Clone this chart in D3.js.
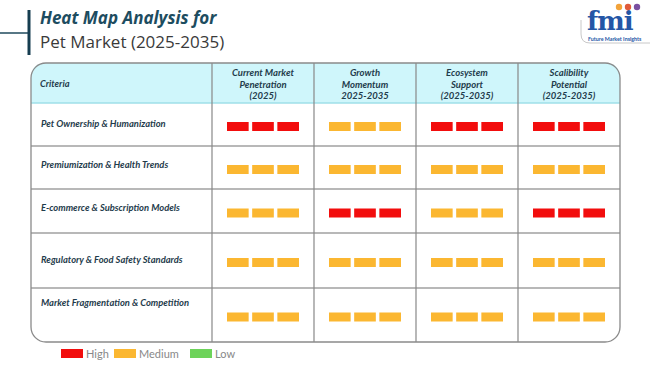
<!DOCTYPE html>
<html><head><meta charset="utf-8">
<script src="https://cdn.jsdelivr.net/npm/d3@7"></script>
<style>
html,body{margin:0;padding:0;background:#fff;}
svg{display:block;}
</style></head>
<body>
<svg id="chart" width="650" height="365"></svg>
<script>
// ---- data ----
const criteria = [
  "Pet Ownership & Humanization",
  "Premiumization & Health Trends",
  "E-commerce & Subscription Models",
  "Regulatory & Food Safety Standards",
  "Market Fragmentation & Competition"
];
const columns = [
  ["Current Market", "Penetration", "(2025)"],
  ["Growth", "Momentum", "2025-2035"],
  ["Ecosystem", "Support", "(2025-2035)"],
  ["Scalibility", "Potential", "(2025-2035)"]
];
const currentPenetration = ["High", "Medium", "Medium", "Medium", "Medium"];
const growthMomentum     = ["Medium", "Medium", "High", "Medium", "Medium"];
const ecosystemSupport   = ["High", "Medium", "Medium", "Medium", "Medium"];
const scalability        = ["High", "Medium", "High", "Medium", "Medium"];
const levels = ["High", "Medium", "Low"];

// ---- layout ----
const svg = d3.select("#chart");
const FONT = "Lato, 'Open Sans', sans-serif";
const tLeft = 31, tRight = 620, tTop = 63, headBottom = 103, tBottom = 342;
const firstColRight = 212;
const rowBounds = [103, 146, 189, 233, 288, 342];
const labelOffsets = [-1, -3, -3, -1, -12];

const color = d3.scaleOrdinal().domain(levels).range(["#f20d0d", "#fbb731", "#6dd35a"]);
const x = d3.scaleBand().domain(d3.range(columns.length)).range([firstColRight, tRight]);
const sub = d3.scaleBand().domain([0,1,2]).range([-36, 36]).paddingInner(0.14);
const values = [currentPenetration, growthMomentum, ecosystemSupport, scalability];

// title
svg.append("line").attr("x1",0).attr("x2",29).attr("y1",33).attr("y2",33)
  .attr("stroke","#1f4a5c").attr("stroke-width",1.5);
svg.append("line").attr("x1",29).attr("x2",29).attr("y1",10).attr("y2",55)
  .attr("stroke","#163d50").attr("stroke-width",3);
svg.append("text").attr("x",40).attr("y",24).attr("font-family","'Open Sans', sans-serif")
  .attr("font-size",17).attr("font-weight",700).attr("font-style","italic").attr("fill","#1d4c60")
  .text("Heat Map Analysis for");
svg.append("text").attr("x",40).attr("y",48).attr("font-family","'Open Sans', sans-serif")
  .attr("font-size",17).attr("fill","#3a3a3a").text("Pet Market (2025-2035)");

// logo
const logo = svg.append("g");
logo.append("path").attr("d","M581,20 L581,34 Q581,43 590,43 L650,43")
  .attr("fill","none").attr("stroke","#c8c8c8").attr("stroke-width",1);
logo.append("text").attr("x",587).attr("y",30).attr("font-family","'DejaVu Serif', serif")
  .attr("font-weight",700).attr("font-size",26).attr("fill","#2456a6").attr("letter-spacing",-1).text("fmi");
[[619,"#f2a33a"],[628,"#e05a3a"],[637,"#7a4fa0"]].forEach(d=>{
  logo.append("circle").attr("cx",d[0]).attr("cy",7).attr("r",3.2).attr("fill",d[1]);
});
logo.append("text").attr("x",588).attr("y",40.5).attr("font-family",FONT).attr("font-size",5.3)
  .attr("fill","#2456a6").attr("font-weight",700).text("Future Market Insights");

// table header fill (rounded top)
const r = 15;
svg.append("path")
  .attr("d",`M${tLeft},${headBottom} L${tLeft},${tTop+r} Q${tLeft},${tTop} ${tLeft+r},${tTop} L${tRight-r},${tTop} Q${tRight},${tTop} ${tRight},${tTop+r} L${tRight},${headBottom} Z`)
  .attr("fill","#cff6fb");

// row lines
svg.selectAll(".rowline").data(rowBounds.slice(0,-1)).join("line")
  .attr("x1",tLeft).attr("x2",tRight).attr("y1",d=>d).attr("y2",d=>d)
  .attr("stroke",(d,i)=>i===0?"#9fdfe8":"#a0a0a0").attr("stroke-width",1.5);

// column lines
const colLines = [firstColRight].concat(x.domain().slice(1).map(i=>x(i)));
svg.selectAll(".colline").data(colLines).join("line")
  .attr("x1",d=>d).attr("x2",d=>d).attr("y1",tTop).attr("y2",tBottom)
  .attr("stroke","#888").attr("stroke-width",1.2);

// outer border
svg.append("rect").attr("x",tLeft).attr("y",tTop).attr("width",tRight-tLeft).attr("height",tBottom-tTop)
  .attr("rx",r).attr("ry",r).attr("fill","none").attr("stroke","#8a8a8a").attr("stroke-width",1.3);

// header text
svg.append("text").attr("x",40).attr("y",87).attr("font-family",FONT).attr("font-size",9.3)
  .attr("font-style","italic").attr("font-weight",700).attr("fill","#1f3c4c").text("Criteria");
columns.forEach((lines,i)=>{
  const t = svg.append("text").attr("text-anchor","middle").attr("font-family",FONT)
    .attr("font-size",9.5).attr("font-style","italic").attr("font-weight",700).attr("fill","#1f3c4c");
  lines.forEach((l,j)=>{
    t.append("tspan").attr("x",x(i)+x.bandwidth()/2).attr("y",76+j*11.5).text(l);
  });
});

// criteria labels
svg.selectAll(".crit").data(criteria).join("text")
  .attr("x",41).attr("y",(d,i)=>(rowBounds[i]+rowBounds[i+1])/2+3+labelOffsets[i])
  .attr("font-family",FONT).attr("font-size",9.4).attr("font-style","italic").attr("font-weight",700)
  .attr("fill","#1f3c4c").text(d=>d);

// bars
values.forEach((col,ci)=>{
  col.forEach((lvl,ri)=>{
    const cx = x(ci)+x.bandwidth()/2;
    const cy = (rowBounds[ri]+rowBounds[ri+1])/2 + 2;
    svg.selectAll(null).data([0,1,2]).join("rect")
      .attr("x",k=>cx+sub(k)).attr("y",cy-4.5).attr("width",sub.bandwidth()).attr("height",9)
      .attr("fill",color(lvl));
  });
});

// legend
const leg = svg.append("g").attr("transform","translate(61,349)");
const legX = [0, 53, 129];
levels.forEach((l,i)=>{
  leg.append("rect").attr("x",legX[i]).attr("y",0).attr("width",22).attr("height",9).attr("fill",color(l));
  leg.append("text").attr("x",legX[i]+25).attr("y",9).attr("font-family",FONT).attr("font-size",11)
    .attr("fill","#888").text(l);
});
</script>
</body></html>
